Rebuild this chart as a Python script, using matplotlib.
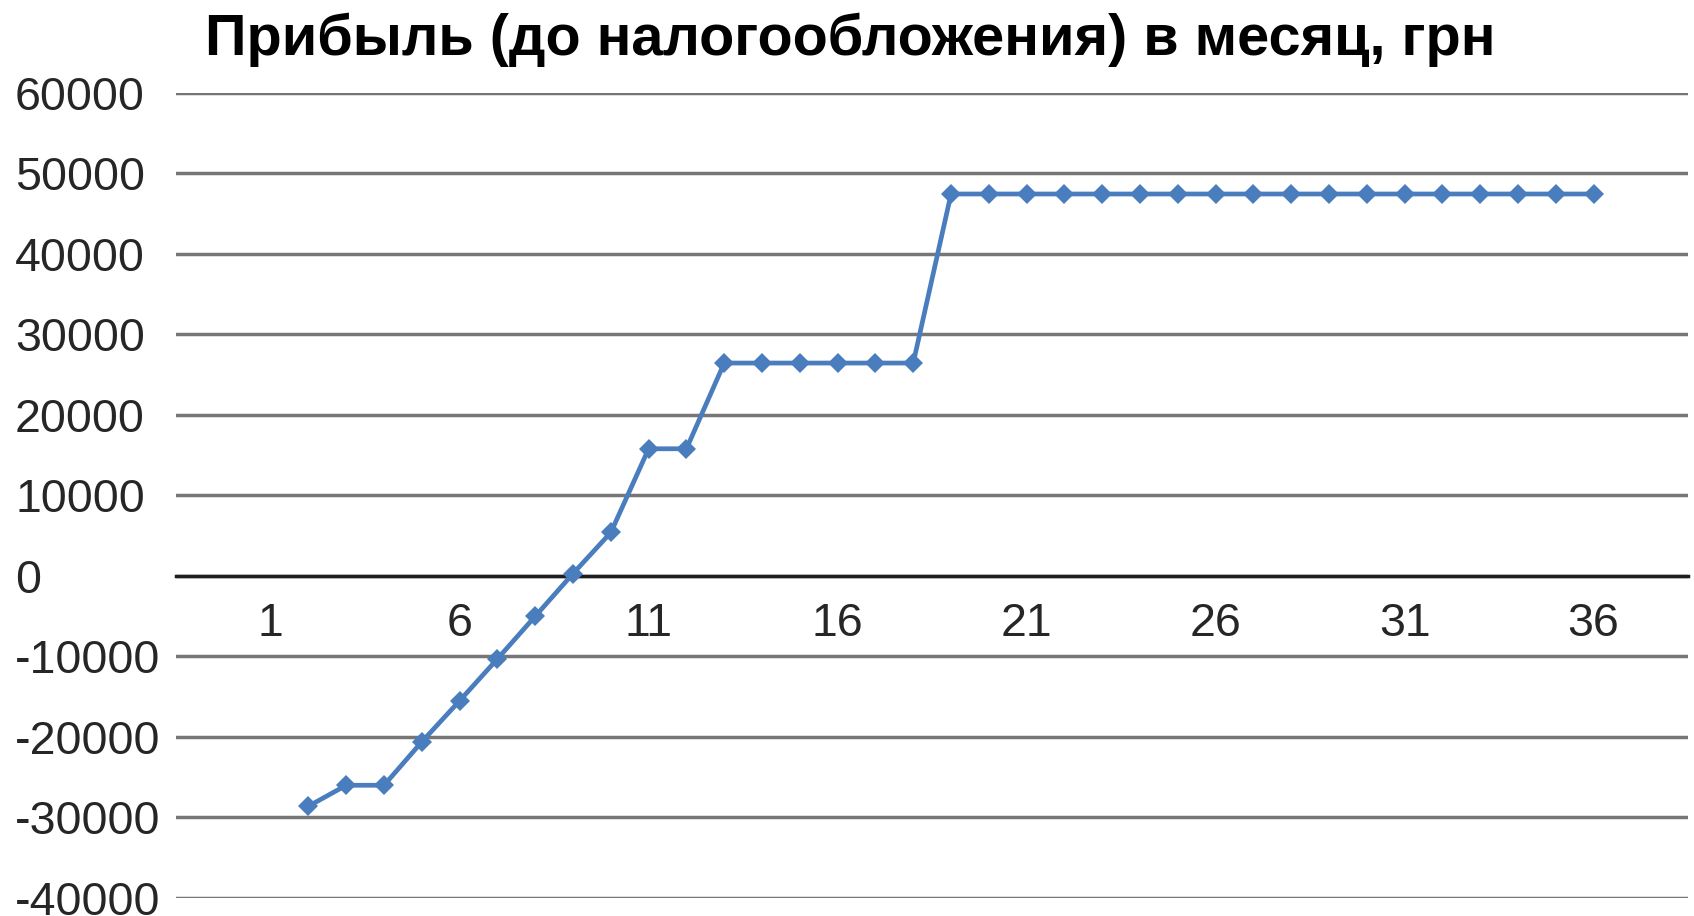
import numpy as np
import matplotlib.pyplot as plt

plt.rcParams['font.family'] = ['Liberation Sans', 'DejaVu Sans']

# monthly profit before tax, months 2..36
months = list(range(2, 37))
profit = [-28600, -26000, -26000, -20600, -15500, -10300, -5000, 300, 5400,
          15800, 15800,
          26450, 26450, 26450, 26450, 26450, 26450,
          47450, 47450, 47450, 47450, 47450, 47450, 47450, 47450, 47450,
          47450, 47450, 47450, 47450, 47450, 47450, 47450, 47450, 47450]
x_ticks = [1, 6, 11, 16, 21, 26, 31, 36]
y_ticks = list(range(-40000, 60001, 10000))
title = 'Прибыль (до налогообложения) в месяц, грн'

fig = plt.figure(figsize=(16.94, 9.16), dpi=100)
ax = fig.add_axes([0.104, 0.0197, 0.8925, 0.8788])

ax.plot(months, profit, color='#4a7dbd', lw=3.4, marker='D', ms=10,
        markeredgewidth=0, zorder=3)

ax.set_xlim(-1.5, 38.5)
ax.set_ylim(-40000, 60000)
ax.set_yticks(y_ticks)
ax.set_yticklabels([str(v) for v in y_ticks])
ax.set_xticks(x_ticks)
ax.set_xticklabels([str(v) for v in x_ticks])

ax.yaxis.grid(True, color='#767676', lw=2.5)
ax.set_axisbelow(True)
for side in ['top', 'left', 'right']:
    ax.spines[side].set_visible(False)
ax.spines['bottom'].set_position(('data', 0))
ax.spines['bottom'].set_color('#1e1e1e')
ax.spines['bottom'].set_linewidth(2.5)

ax.tick_params(axis='both', length=0, labelsize=33.5, colors='#262626')
ax.tick_params(axis='y', pad=116)
ax.tick_params(axis='x', pad=19)
for lbl in ax.get_yticklabels():
    lbl.set_horizontalalignment('left')

fig.text(0.502, 1 - 40 / 916, title, ha='center', va='center',
         fontsize=41.5, fontweight='bold', color='#000000')

fig.savefig('out.png', dpi=100, facecolor='white')
